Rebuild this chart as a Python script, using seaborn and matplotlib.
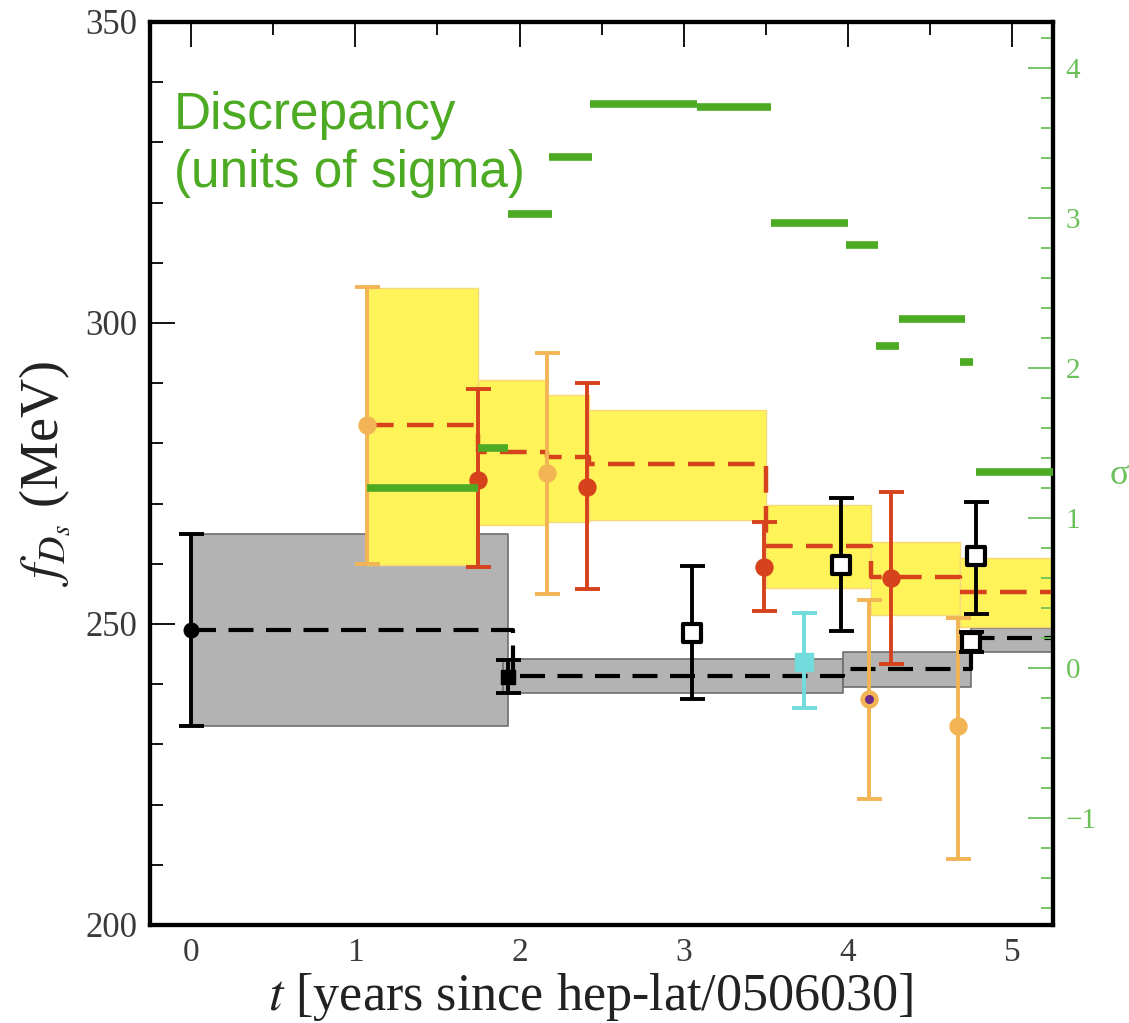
import numpy as np
import pandas as pd
import matplotlib
matplotlib.use("Agg")
import matplotlib.pyplot as plt
import seaborn as sns
from matplotlib.ticker import MultipleLocator, FixedLocator

sns.set_style("white")
plt.rcParams['font.family'] = ['Liberation Serif', 'DejaVu Serif']
plt.rcParams['mathtext.fontset'] = 'stix'

# ---------------- data ----------------
# grey bands (average, black dashed)
gray_t0 = [0.0, 1.90, 3.97, 4.75]
gray_t1 = [1.93, 3.97, 4.75, 5.25]
gray_lo = [233.0, 238.6, 239.5, 245.3]
gray_hi = [265.0, 244.2, 245.3, 249.3]
gray_mid = [249.0, 241.4, 242.5, 247.7]
gray_step_t = [0.0, 1.96, 3.97, 4.75]

# yellow bands (average, red dashed)
yel_t0 = [1.07, 1.75, 2.17, 2.42, 3.50, 4.14, 4.68]
yel_t1 = [1.75, 2.17, 2.42, 3.50, 4.14, 4.68, 5.25]
yel_lo = [259.8, 266.5, 267.0, 267.3, 256.0, 251.5, 249.5]
yel_hi = [305.8, 290.5, 288.0, 285.5, 269.8, 263.6, 261.0]
yel_mid = [283.0, 278.6, 277.7, 276.5, 263.0, 257.8, 255.3]

# orange points
or_t = [1.07, 2.17, 4.13, 4.67]
or_f = [283.0, 275.0, 237.5, 233.0]
or_lo = [260.0, 255.0, 221.0, 211.0]
or_hi = [306.0, 295.0, 254.0, 251.0]

# red points
rd_t = [1.75, 2.41, 3.49, 4.26]
rd_f = [274.0, 272.8, 259.4, 257.7]
rd_lo = [259.5, 255.8, 252.2, 243.3]
rd_hi = [289.0, 290.0, 266.9, 271.9]

# black open squares
sq_t = [3.05, 3.96, 4.78, 4.75]
sq_f = [248.5, 259.8, 261.3, 247.0]
sq_lo = [237.5, 248.8, 251.7, 245.3]
sq_hi = [259.6, 270.9, 270.3, 248.7]

# black filled points
bk_t = [0.0, 1.93]
bk_f = [249.0, 241.2]
bk_lo = [233.0, 238.5]
bk_hi = [265.0, 244.0]
bk_marker = ['o', 's']

# cyan point
cy_t = [3.73]
cy_f = [243.7]
cy_lo = [236.0]
cy_hi = [251.8]

# discrepancy segments (sigma)
g_t0 = [1.07, 1.75, 1.93, 2.18, 2.43, 3.08, 3.53, 3.99, 4.17, 4.31, 4.68, 4.78]
g_t1 = [1.75, 1.93, 2.20, 2.44, 3.08, 3.53, 4.00, 4.18, 4.31, 4.71, 4.76, 5.25]
g_sig = [1.20, 1.47, 3.03, 3.41, 3.76, 3.74, 2.97, 2.82, 2.15, 2.33, 2.04, 1.31]

# ---------------- colours ----------------
C_GRAY = "#b3b3b3"
C_YEL = "#fff35a"
C_OR = "#f2b454"
C_RED = "#d6421c"
C_CY = "#72dcdc"
C_GREEN = "#4cab22"
C_GTICK = "#6cc05a"

fig = plt.figure(figsize=(11.29, 10.23), dpi=100)
ax = fig.add_axes([0.1329, 0.0958, 0.800, 0.8827])

# bands
for t0, t1, lo, hi in zip(gray_t0, gray_t1, gray_lo, gray_hi):
    ax.fill_between([t0, t1], lo, hi, color=C_GRAY, edgecolor="#6e6e6e",
                    linewidth=1.2, zorder=1)
for t0, t1, lo, hi in zip(yel_t0, yel_t1, yel_lo, yel_hi):
    ax.fill_between([t0, t1], lo, hi, color=C_YEL, edgecolor="#f6d978",
                    linewidth=1.0, zorder=2)

# dashed step lines
gdf = pd.DataFrame({"t": gray_step_t + [gray_t1[-1]], "f": gray_mid + [gray_mid[-1]]})
ydf = pd.DataFrame({"t": yel_t0 + [yel_t1[-1]], "f": yel_mid + [yel_mid[-1]]})
sns.lineplot(data=gdf, x="t", y="f", ax=ax, drawstyle="steps-post", color="black",
             linewidth=3, zorder=3)
sns.lineplot(data=ydf, x="t", y="f", ax=ax, drawstyle="steps-post", color=C_RED,
             linewidth=3.2, zorder=3)
for ln in ax.lines:
    ln.set_dashes((6, 3))

def ebar(t, f, lo, hi, color, lw=2.8, cs=9):
    f = np.asarray(f); lo = np.asarray(lo); hi = np.asarray(hi)
    ax.errorbar(t, f, yerr=[f - lo, hi - f], fmt='none', ecolor=color,
                elinewidth=lw, capsize=cs, capthick=lw, zorder=5)

ebar(or_t, or_f, or_lo, or_hi, C_OR)
ebar(rd_t, rd_f, rd_lo, rd_hi, C_RED)
ebar(sq_t, sq_f, sq_lo, sq_hi, "black")
ebar(bk_t, bk_f, bk_lo, bk_hi, "black")
ebar(cy_t, cy_f, cy_lo, cy_hi, C_CY)

# markers
sns.scatterplot(x=or_t, y=or_f, ax=ax, color=C_OR, s=150, edgecolor=C_OR, zorder=6)
ax.scatter([or_t[2]], [or_f[2]], s=30, color="#6a2a8a", zorder=7)
sns.scatterplot(x=rd_t, y=rd_f, ax=ax, color=C_RED, s=150, edgecolor=C_RED, zorder=6)
sns.scatterplot(x=sq_t, y=sq_f, ax=ax, marker='s', color="white", s=150,
                edgecolor="black", linewidth=3, zorder=6)
for t, f, m in zip(bk_t, bk_f, bk_marker):
    ax.scatter([t], [f], marker=m, s=110, color="black", zorder=6)
sns.scatterplot(x=cy_t, y=cy_f, ax=ax, marker='s', color=C_CY, s=150,
                edgecolor=C_CY, zorder=6)

ax.set_xlim(-0.25, 5.25)
ax.set_ylim(200, 350)
ax.xaxis.set_major_locator(MultipleLocator(1))
ax.xaxis.set_minor_locator(MultipleLocator(0.5))
ax.yaxis.set_major_locator(MultipleLocator(50))
ax.yaxis.set_minor_locator(MultipleLocator(10))
ax.tick_params(which='both', direction='in', top=True, right=False, colors='black')
ax.tick_params(which='major', length=18, width=1.3)
ax.tick_params(which='minor', length=9, width=1.3)
ax.tick_params(axis='y', which='major', labelsize=25, pad=9, labelcolor="#3a3a3a")
ax.tick_params(axis='x', which='major', labelsize=24, pad=9, labelcolor="#3a3a3a")

ax.set_xlabel(r"$t$ [years since hep-lat/0506030]", fontsize=37.5, color="#222222", labelpad=2)
ax.xaxis.label.set_x(0.488)
ax.set_ylabel(r"$f_{D_s}$ (MeV)", fontsize=39, color="#222222", labelpad=10)

for sp in ax.spines.values():
    sp.set_linewidth(3)
    sp.set_color("black")

# sigma axis
ax2 = ax.twinx()
ax2.set_ylim(-1.715, 4.31)
ax2.hlines(g_sig, g_t0, g_t1, color=C_GREEN, linewidth=5.5, zorder=8)
ax2.yaxis.set_major_locator(FixedLocator([-1, 0, 1, 2, 3, 4]))
ax2.yaxis.set_minor_locator(MultipleLocator(0.2))
ax2.tick_params(which='both', direction='in', colors=C_GTICK, labelcolor=C_GTICK)
ax2.tick_params(which='major', length=18, width=1.3, labelsize=21, pad=9)
ax2.tick_params(which='minor', length=9, width=1.3)
ax2.set_yticklabels(["\u22121", "0", "1", "2", "3", "4"])
for sp in ax2.spines.values():
    sp.set_linewidth(3)
    sp.set_color("black")
ax2.grid(False)
ax.grid(False)

ax2.text(0.026, 0.805, "Discrepancy\n(units of sigma)", transform=ax.transAxes,
         fontsize=37, color=C_GREEN, family=['Liberation Sans', 'DejaVu Sans'],
         linespacing=1.25, va='bottom', ha='left')

fig.text(0.983, 0.535, "\u03c3", fontsize=26, color=C_GTICK, ha='left', va='center')

fig.savefig("out.png", dpi=100, facecolor="white")
